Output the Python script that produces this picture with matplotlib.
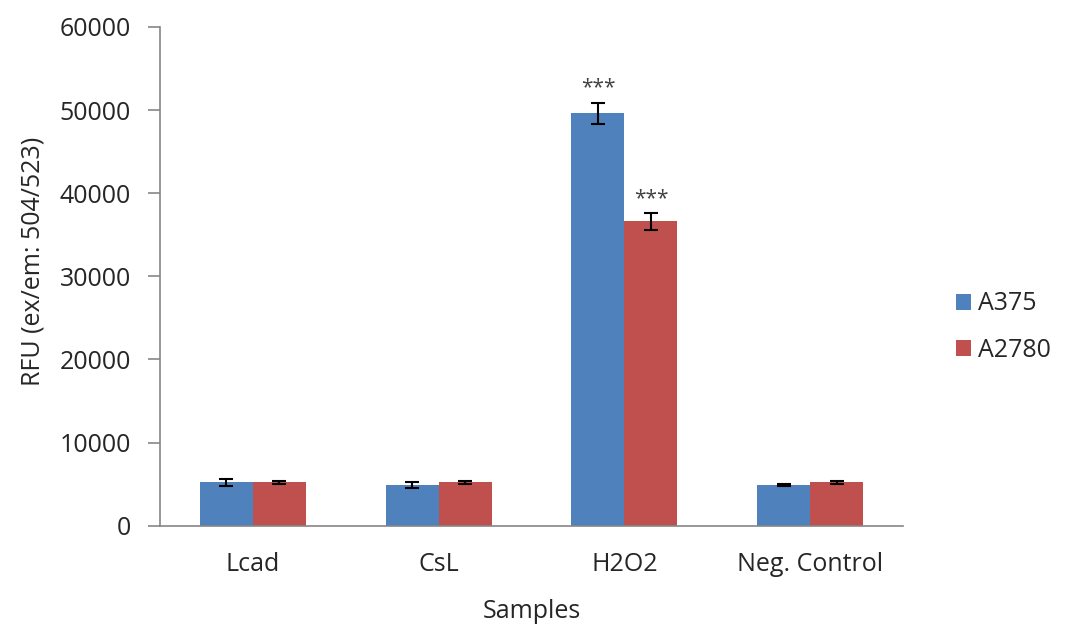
import matplotlib
matplotlib.use("Agg")
import matplotlib.pyplot as plt
import numpy as np

plt.rcParams['font.family'] = ['Open Sans', 'DejaVu Sans']

categories = ["Lcad", "CsL", "H2O2", "Neg. Control"]
series_names = ["A375", "A2780"]
a375_values = [5220, 4900, 49600, 4900]
a375_errors = [400, 330, 1300, 150]
a2780_values = [5200, 5200, 36600, 5200]
a2780_errors = [150, 150, 1000, 150]
significance = ["", "", "***", ""]
y_ticks = [0, 10000, 20000, 30000, 40000, 50000, 60000]

blue = "#4F81BD"
red = "#C0504D"
text_color = "#262626"
axis_color = "#868686"
fs = 18

fig = plt.figure(figsize=(10.65, 6.28), dpi=100)
ax = fig.add_axes([160 / 1065, (628 - 525.7) / 628, 743 / 1065, (525.7 - 27) / 628])

x = np.arange(len(categories))
w = 0.285
ax.bar(x - w / 2, a375_values, w, color=blue, label=series_names[0], zorder=2)
ax.bar(x + w / 2, a2780_values, w, color=red, label=series_names[1], zorder=2)
err_style = dict(fmt='none', ecolor='black', elinewidth=1.5, capsize=5, capthick=1.5, zorder=3)
ax.errorbar(x - w / 2, a375_values, yerr=a375_errors, **err_style)
ax.errorbar(x + w / 2, a2780_values, yerr=a2780_errors, **err_style)

for i, mark in enumerate(significance):
    if not mark:
        continue
    for xpos, val, err in ((x[i] - w / 2, a375_values[i], a375_errors[i]),
                           (x[i] + w / 2, a2780_values[i], a2780_errors[i])):
        ax.annotate(mark, (xpos, val + err), xytext=(0, 3), textcoords='offset points',
                    ha='center', va='bottom', fontsize=15, color='#404040')

ax.set_xlim(-0.5, len(categories) - 0.5)
ax.set_ylim(0, 60000)
ax.set_yticks(y_ticks)
ax.set_yticklabels([str(v) for v in y_ticks])
ax.set_xticks(x)
ax.set_xticklabels(categories)

for side in ("top", "right"):
    ax.spines[side].set_visible(False)
for side in ("left", "bottom"):
    ax.spines[side].set_color(axis_color)
    ax.spines[side].set_linewidth(1.2)

ax.tick_params(axis='y', direction='out', length=9, width=1.2, color=axis_color,
               pad=12, labelsize=fs, labelcolor=text_color)
ax.tick_params(axis='x', length=0, pad=19, labelsize=fs, labelcolor=text_color)

ax.set_xlabel("Samples", fontsize=fs, color=text_color, labelpad=16)
ax.set_ylabel("RFU (ex/em: 504/523)", fontsize=fs, color=text_color, labelpad=10, y=0.53)

fig.legend(loc='center left', bbox_to_anchor=(933 / 1065, 1 - 327 / 628),
           frameon=False, fontsize=fs, handlelength=0.6, handleheight=0.6,
           handletextpad=0.3, labelspacing=0.85, labelcolor=text_color)

fig.savefig("out.png", dpi=100)
